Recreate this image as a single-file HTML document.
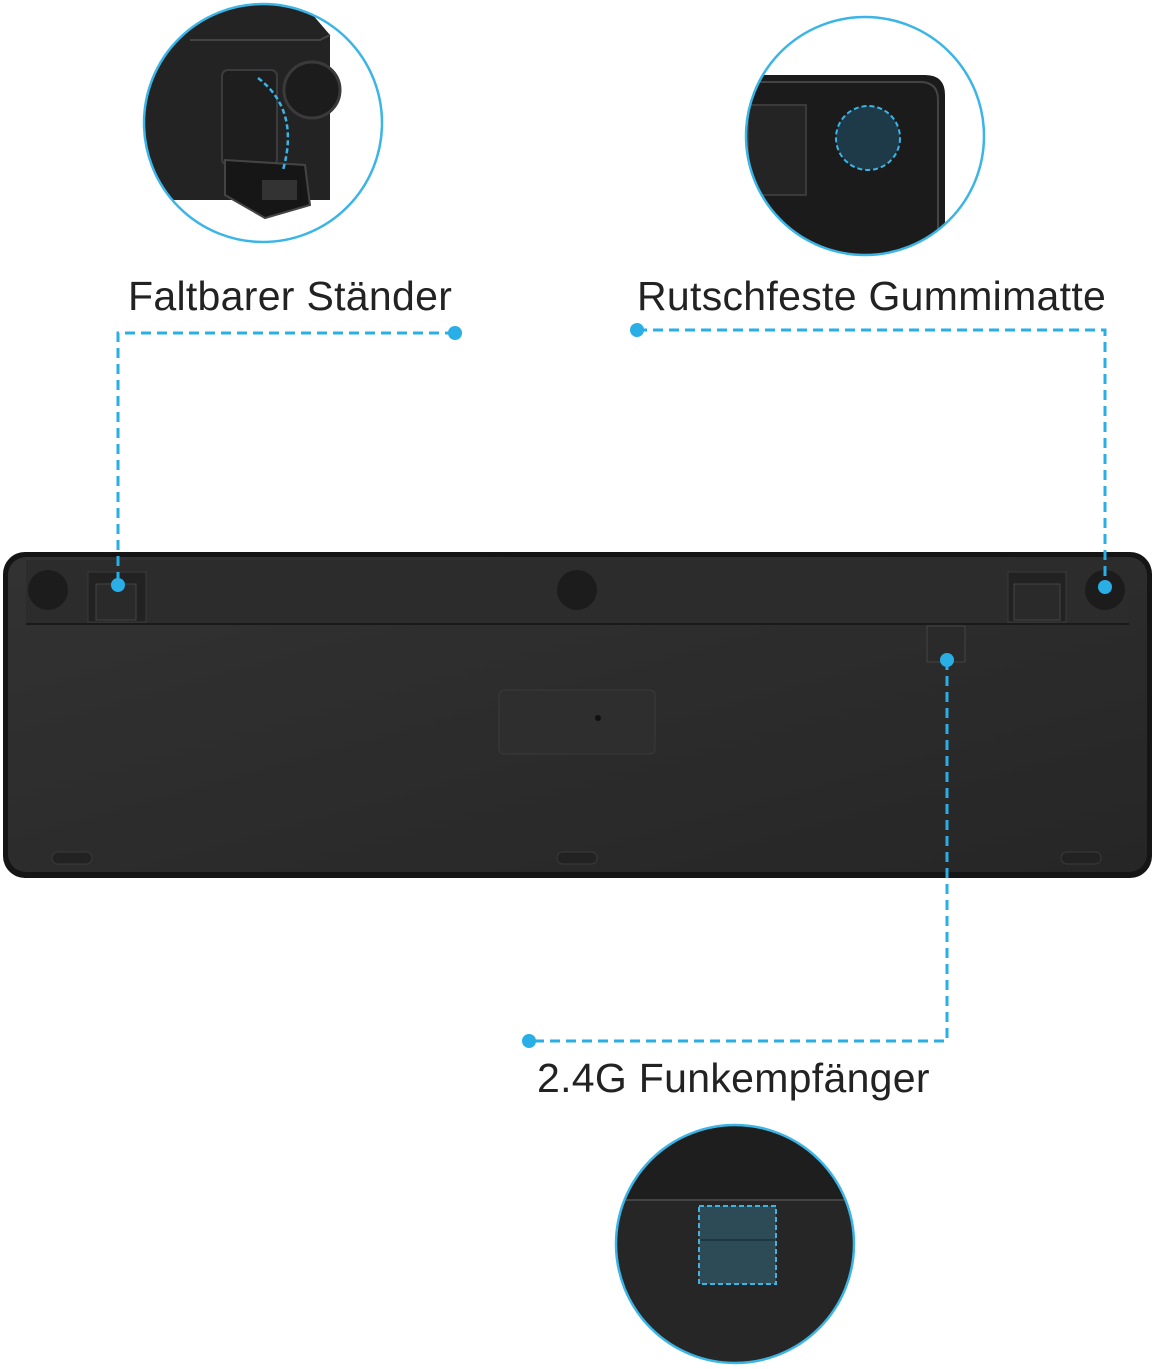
<!DOCTYPE html>
<html><head><meta charset="utf-8"><style>
html,body{margin:0;padding:0;background:#fff;width:1155px;height:1369px;overflow:hidden}
.t{position:absolute;font-family:"Liberation Sans",sans-serif;font-size:41px;color:#222;white-space:nowrap;letter-spacing:0.3px}
</style></head><body>
<svg width="1155" height="1369" style="position:absolute;left:0;top:0">
<defs>
<clipPath id="c1"><circle cx="263" cy="123" r="119"/></clipPath>
<clipPath id="c2"><circle cx="865" cy="136" r="119"/></clipPath>
<clipPath id="c3"><circle cx="735" cy="1244" r="119"/></clipPath>
<linearGradient id="kb" x1="0" y1="0" x2="1" y2="1"><stop offset="0" stop-color="#323232"/><stop offset="1" stop-color="#262626"/></linearGradient>
</defs>
<g clip-path="url(#c1)">
<rect x="140" y="0" width="250" height="250" fill="#fff"/>
<path d="M140 0 L300 0 L330 35 L330 200 L140 200 Z" fill="#232323"/>
<path d="M190 40 L320 40 L330 35" stroke="#444" fill="none" stroke-width="2"/>
<circle cx="312" cy="90" r="28" fill="#1c1c1c" stroke="#3a3a3a" stroke-width="3"/>
<rect x="222" y="70" width="55" height="95" rx="6" fill="#1e1e1e" stroke="#3c3c3c" stroke-width="2"/>
<path d="M225 160 L305 165 L310 205 L265 218 L225 195 Z" fill="#161616" stroke="#444" stroke-width="2"/>
<rect x="262" y="180" width="35" height="20" fill="#333"/>
<path d="M258 78 Q300 110 283 170" stroke="#3bb4e6" stroke-width="2.5" fill="none" stroke-dasharray="5 3"/>
</g>
<circle cx="263" cy="123" r="119" fill="none" stroke="#3bb4e6" stroke-width="2.5"/>
<g clip-path="url(#c2)">
<rect x="740" y="10" width="250" height="260" fill="#fff"/>
<path d="M740 75 L925 75 Q945 75 945 95 L945 260 L740 260 Z" fill="#1b1b1b"/>
<path d="M746 82 L920 82 Q938 82 938 100 L938 260" stroke="#444" stroke-width="2" fill="none"/>
<rect x="748" y="105" width="58" height="90" fill="#242424" stroke="#3a3a3a" stroke-width="2"/>
<circle cx="868" cy="138" r="32" fill="#1e3a48" stroke="#3bb4e6" stroke-width="2" stroke-dasharray="5 3"/>
</g>
<circle cx="865" cy="136" r="119" fill="none" stroke="#3bb4e6" stroke-width="2.5"/>
<g clip-path="url(#c3)">
<rect x="610" y="1120" width="250" height="250" fill="#262626"/>
<rect x="610" y="1120" width="250" height="80" fill="#1e1e1e"/>
<line x1="610" y1="1200" x2="860" y2="1200" stroke="#444" stroke-width="2"/>
<rect x="699" y="1206" width="77" height="78" fill="#2d4a57" stroke="#3bb4e6" stroke-width="2" stroke-dasharray="5 3"/>
<line x1="700" y1="1240" x2="775" y2="1240" stroke="#1f3540" stroke-width="2"/>
</g>
<circle cx="735" cy="1244" r="119" fill="none" stroke="#3bb4e6" stroke-width="2.5"/>
<rect x="3" y="552" width="1149" height="326" rx="22" fill="#151515"/>
<rect x="8" y="557" width="1139" height="315" rx="18" fill="url(#kb)"/>
<rect x="26" y="560" width="1103" height="64" fill="#2c2c2c"/>
<line x1="26" y1="624" x2="1129" y2="624" stroke="#1a1a1a" stroke-width="2"/>
<circle cx="48" cy="590" r="20" fill="#1c1c1c"/>
<circle cx="577" cy="590" r="20" fill="#1c1c1c"/>
<circle cx="1105" cy="590" r="20" fill="#1c1c1c"/>
<rect x="88" y="572" width="58" height="50" fill="#222" stroke="#3a3a3a"/>
<rect x="96" y="584" width="40" height="36" fill="#2a2a2a" stroke="#444"/>
<rect x="1008" y="572" width="58" height="50" fill="#222" stroke="#3a3a3a"/>
<rect x="1014" y="584" width="46" height="36" fill="#2a2a2a" stroke="#444"/>
<rect x="927" y="626" width="38" height="36" fill="#2a2a2a" stroke="#444"/>
<rect x="499" y="690" width="156" height="64" rx="5" fill="#2e2e2e" stroke="#3a3a3a"/>
<circle cx="598" cy="718" r="3" fill="#111"/>
<rect x="52" y="852" width="40" height="12" rx="6" fill="#222" stroke="#3a3a3a"/>
<rect x="557" y="852" width="40" height="12" rx="6" fill="#222" stroke="#3a3a3a"/>
<rect x="1061" y="852" width="40" height="12" rx="6" fill="#222" stroke="#3a3a3a"/>
<g stroke="#29aee6" stroke-width="3" fill="none" stroke-dasharray="10 6">
<polyline points="455,333 118,333 118,585"/>
<polyline points="637,330 1105,330 1105,587"/>
<polyline points="947,660 947,1041 529,1041"/>
</g>
<g fill="#29aee6">
<circle cx="455" cy="333" r="7"/><circle cx="118" cy="585" r="7"/>
<circle cx="637" cy="330" r="7"/><circle cx="1105" cy="587" r="7"/>
<circle cx="947" cy="660" r="7"/><circle cx="529" cy="1041" r="7"/>
</g>
</svg>
<div class="t" style="left:128px;top:273px">Faltbarer Ständer</div>
<div class="t" style="left:637px;top:273px">Rutschfeste Gummimatte</div>
<div class="t" style="left:537px;top:1055px">2.4G Funkempfänger</div>
</body></html>
